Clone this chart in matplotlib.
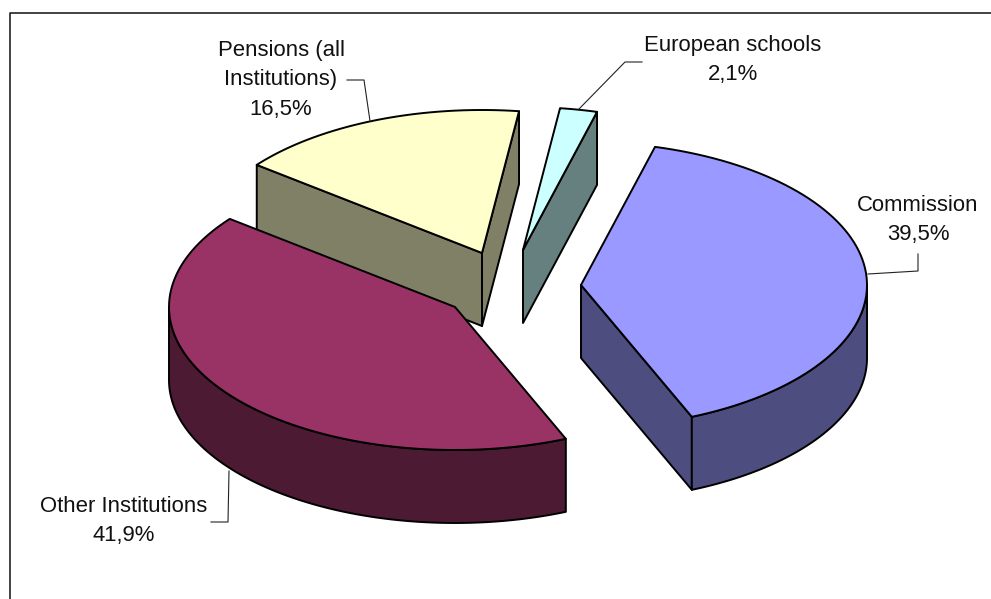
import numpy as np
import matplotlib
matplotlib.use('Agg')
import matplotlib.pyplot as plt
from matplotlib.patches import Polygon

plt.rcParams['font.family'] = ['Liberation Sans', 'DejaVu Sans']

labels = ['Commission', 'Other Institutions', 'Pensions (all\nInstitutions)', 'European schools']
values = [39.5, 41.9, 16.5, 2.1]
value_labels = ['39,5%', '41,9%', '16,5%', '2,1%']

top_colors = ['#9999ff', '#993366', '#ffffcc', '#ccffff']
side_colors = ['#4d4d80', '#4d1a33', '#808066', '#668080']
# apex of each exploded slice, in pixels of the picture
apex_x = [581, 455, 482, 523]
apex_y = [285, 307, 253, 250]

start_angle = 15
rx, ry = 286, 143
depth = 73


def arc(cx, cy, t1, t2):
    t = np.radians(np.linspace(t1, t2, 80))
    return np.column_stack([cx + rx * np.sin(t), cy - ry * np.cos(t)])


def draw_face(pts, color, z):
    ax.add_patch(Polygon(pts, closed=True, facecolor=color, edgecolor='black', linewidth=1.4, zorder=z, joinstyle='round'))


fig = plt.figure(figsize=(9.91, 5.99), dpi=100)
ax = fig.add_axes([0, 0, 1, 1])
ax.set_xlim(0, 991)
ax.set_ylim(599, 0)
ax.axis('off')

# chart frame, cut off by the picture on the right and at the bottom
ax.plot([9.5, 9.5, 991], [599, 12.5, 12.5], color='#222222', lw=1.2)

shares = np.array(values) / sum(values) * 360
ends = start_angle + np.cumsum(shares)
starts = ends - shares
down = np.array([0, depth])

# back slices first so the front ones overlap them
for i in [3, 2, 0, 1]:
    cx, cy = apex_x[i], apex_y[i]
    a, b = starts[i], ends[i]
    apex = np.array([cx, cy])
    z = 3 + [3, 2, 0, 1].index(i)
    rim = arc(cx, cy, a, b)
    if np.sin(np.radians(a)) < 0:
        draw_face([apex, rim[0], rim[0] + down, apex + down], side_colors[i], z)
    if np.sin(np.radians(b)) > 0:
        draw_face([apex, rim[-1], rim[-1] + down, apex + down], side_colors[i], z)
    lo, hi = max(a, 90), min(b, 270)
    if lo < hi:
        front = arc(cx, cy, lo, hi)
        draw_face(np.vstack([front, (front + down)[::-1]]), side_colors[i], z)
    draw_face(np.vstack([apex, rim]), top_colors[i], z)

# data labels and leader lines
fs = 15.9
ls = 1.56
ax.text(918, 220, labels[0] + '\n' + value_labels[0], ha='center', va='center', fontsize=fs, linespacing=ls, color='#111111', zorder=10)
ax.text(124, 521, labels[1] + '\n' + value_labels[1], ha='center', va='center', fontsize=fs, linespacing=ls, color='#111111', zorder=10)
ax.text(281, 80, labels[2] + '\n' + value_labels[2], ha='center', va='center', fontsize=fs, linespacing=ls, color='#111111', zorder=10)
ax.text(733, 60, labels[3] + '\n' + value_labels[3], ha='center', va='center', fontsize=fs, linespacing=ls, color='#111111', zorder=10)

ax.plot([868, 918, 918], [274, 271, 254], color='#222222', lw=0.8, zorder=10)
ax.plot([211, 228, 229], [522, 522, 471], color='#222222', lw=0.8, zorder=10)
ax.plot([347, 364, 370], [80, 80, 121], color='#222222', lw=0.8, zorder=10)
ax.plot([642, 625, 579], [62, 62, 109], color='#222222', lw=0.8, zorder=10)

fig.savefig('out.png', dpi=100)
